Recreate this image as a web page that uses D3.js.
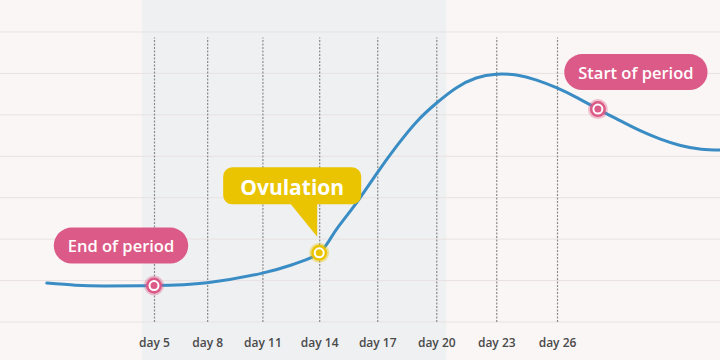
<!DOCTYPE html>
<html>
<head>
<meta charset="utf-8">
<script src="https://cdn.jsdelivr.net/npm/d3@7"></script>
<style>
  html, body { margin: 0; padding: 0; background: #faf6f5; }
  svg { display: block; }
  text { font-family: "Open Sans", "Noto Sans", sans-serif; }
</style>
</head>
<body>
<svg id="chart" width="720" height="360"></svg>
<script>
// ---- data ----
const tickDays = [5, 8, 11, 14, 17, 20, 23, 26];
const tickLabels = ["day 5", "day 8", "day 11", "day 14", "day 17", "day 20", "day 23", "day 26"];
const curveDays   = [-2, 0, 2, 5, 8, 11, 12.5, 13.3, 14, 14.5, 15, 16, 17, 18, 19, 20, 21, 22, 23, 24, 25, 26, 27, 28, 29, 30, 31, 32, 33, 34];
const curveLevels = [0.94, 0.89, 0.87, 0.88, 0.95, 1.18, 1.37, 1.50, 1.67, 1.95, 2.30, 2.92, 3.60, 4.25, 4.83, 5.28, 5.65, 5.89, 5.98, 5.96, 5.84, 5.65, 5.41, 5.14, 4.88, 4.63, 4.42, 4.26, 4.17, 4.15];
const gridLevels = [0, 1, 2, 3, 4, 5, 6, 7];
const fertileWindow = [4.3, 20.5];           // shaded span (days)
const markerNames = ["End of period", "Ovulation", "Start of period"];
const markerDays  = [5, 14, 28];

// ---- scales ----
const W = 720, H = 360;
const x = d3.scalePow().exponent(1.1).domain([5, 26]).range([154, 557]);
const y = d3.scaleLinear().domain([0, 7]).range([322, 32]);

const svg = d3.select("#chart");

// backgrounds
svg.append("rect").attr("width", W).attr("height", H).attr("fill", "#faf6f5");
svg.append("rect")
  .attr("x", x(fertileWindow[0])).attr("y", 0)
  .attr("width", x(fertileWindow[1]) - x(fertileWindow[0])).attr("height", H)
  .attr("fill", "#eef0f2");

// horizontal grid lines
svg.append("g").selectAll("line").data(gridLevels).join("line")
  .attr("x1", 0).attr("x2", W)
  .attr("y1", d => y(d)).attr("y2", d => y(d))
  .attr("stroke", "#e9e1e1").attr("stroke-width", 1);

// vertical dashed day lines + labels via axis
const axis = d3.axisBottom(x).tickValues(tickDays)
  .tickFormat((d, i) => tickLabels[i])
  .tickSize(-(y(0) - y(6.87))).tickPadding(16);
const gx = svg.append("g").attr("transform", `translate(0,${y(0)})`).call(axis);
gx.select(".domain").remove();
gx.selectAll(".tick line")
  .attr("stroke", "#8a8a8a").attr("stroke-width", 1.2).attr("stroke-dasharray", "2,1.5");
gx.selectAll(".tick text")
  .attr("fill", "#4a4a4a").attr("font-size", 12).attr("font-weight", 600)
  .style("font-family", "'Open Sans', sans-serif");

// curve
const pts = curveDays.map((d, i) => [d, curveLevels[i]]);
const line = d3.line().x(d => x(d[0])).y(d => y(d[1])).curve(d3.curveNatural);
svg.append("path").datum(pts)
  .attr("d", line).attr("fill", "none")
  .attr("stroke", "#3a8cc4").attr("stroke-width", 3).attr("stroke-linecap", "round");

// markers
const levelAt = d => curveLevels[curveDays.indexOf(d)];
const pink = "#dc5a87", yellow = "#eac400";
const markers = markerDays.map((d, i) => ({ name: markerNames[i], day: d, cx: x(d), cy: y(levelAt(d)), color: i === 1 ? yellow : pink }));

// callouts
function pill(m, dx, dy, fs) {
  const g = svg.append("g");
  const t = g.append("text").text(m.name)
    .attr("x", m.cx + dx).attr("y", m.cy + dy)
    .attr("text-anchor", "middle").attr("dominant-baseline", "central")
    .attr("fill", "#fff").attr("font-size", fs).attr("font-weight", 600);
  const bb = t.node().getBBox();
  const h = 36, padX = 14;
  g.insert("rect", "text")
    .attr("x", bb.x - padX).attr("y", m.cy + dy - h / 2)
    .attr("width", bb.width + 2 * padX).attr("height", h)
    .attr("rx", h / 2).attr("fill", m.color);
}
pill(markers[0], -33, -40, 16.5);
pill(markers[2], 38, -37, 16.5);

// Ovulation callout with pointer
(function () {
  const m = markers[1];
  const g = svg.append("g");
  const cxB = m.cx - 27, cyB = m.cy - 67, bw = 138, bh = 37;
  g.append("path")
    .attr("d", `M${m.cx - 30},${cyB + bh / 2 - 2} L${m.cx - 2},${cyB + bh / 2 - 2} L${m.cx - 2},${m.cy - 16} Z`)
    .attr("fill", m.color);
  g.append("rect")
    .attr("x", cxB - bw / 2).attr("y", cyB - bh / 2)
    .attr("width", bw).attr("height", bh).attr("rx", 9).attr("fill", m.color);
  g.append("text").text(m.name)
    .attr("x", cxB).attr("y", cyB + 1)
    .attr("text-anchor", "middle").attr("dominant-baseline", "central")
    .attr("fill", "#fff").attr("font-size", 21).attr("font-weight", 700);
})();

// marker circles
const mg = svg.append("g").selectAll("g").data(markers).join("g")
  .attr("transform", d => `translate(${d.cx},${d.cy})`);
mg.append("circle").attr("r", 10).attr("fill", d => d.color).attr("opacity", 0.35);
mg.append("circle").attr("r", 8).attr("fill", d => d.color);
mg.append("circle").attr("r", 4.5).attr("fill", "none").attr("stroke", "#fff").attr("stroke-width", 2);
</script>
</body>
</html>
